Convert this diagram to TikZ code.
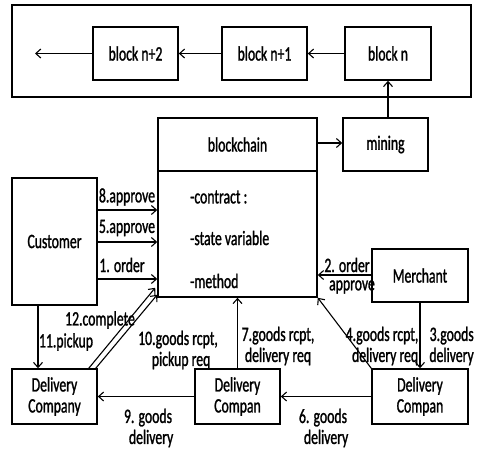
\documentclass[tikz,border=0pt]{standalone}
\usepackage{fontspec}
\setmainfont{Carlito}[FakeStretch=0.67,FakeBold=1.2]
\usetikzlibrary{arrows.meta,calc}
\tikzset{
    box/.style = {
        draw,
        line width=1.6pt,
        rectangle,
        minimum width=85pt,
        minimum height=53pt,
        inner sep=0pt,
        align=center,
        },
    wide box/.style = {
        box,
        minimum width=96pt,
        },
    lbl/.style = {
        inner sep=0pt,
        align=center,
        },
    flow/.style = {
        line width=1.1pt,
        -{Straight Barb[length=5pt,width=9pt,line width=1.1pt]},
        },
}

\begin{document}
\begin{tikzpicture}[x=1pt,y=-1pt,font=\fontsize{20.5}{21}\selectfont]
            \useasboundingbox (0,0) rectangle (481,450);
            \draw[line width=2.4pt] (12,5) rectangle (471,97);

            \node[box] (bn2) at (135.5,53.5) {block n+2};
            \node[box] (bn1) at (264.5,53.5) {block n+1};
            \node[box, minimum width=86pt] (bn) at (388,53.5) {block n};
            \coordinate (tail) at (35,53.5);

            \node[box, minimum width=159pt] (bc) at (237.5,144.5) {blockchain};
            \node[box, minimum width=159pt, minimum height=126pt] (body) at (237.5,234) {};
            \node[box] (mining) at (385.5,144.5) {mining};

            \node[box, minimum height=127pt] (cust) at (54.5,241.5) {Customer};
            \node[wide box] (merch) at (420,275.5) {Merchant};
            \node[box, minimum height=55pt] (dc1) at (54.5,396.5) {Delivery\\Company};
            \node[box, minimum height=55pt] (dc2) at (237.5,396.5) {Delivery\\Compan};
            \node[wide box, minimum height=55pt] (dc3) at (420,396.5) {Delivery\\Compan};

            % contract body
            \node[lbl, anchor=west] (c1) at (190,197) {-contract :};
            \node[lbl, anchor=west] (c2) at (190,238) {-state variable};
            \node[lbl, anchor=west] (c3) at (190,281) {-method};

            % chain
            \draw[flow] (bn.west) -- (bn1.east);
            \draw[flow] (bn1.west) -- (bn2.east);
            \draw[flow] (bn2.west) -- (tail);
            \draw[flow] (mining.north -| bn) -- (bn.south);
            \draw[flow] (bc.east |- 0,143) -- (mining.west |- 0,143);

            % customer side
            \draw[flow] (cust.east |- 0,210) -- (body.west |- 0,210);
            \draw[flow] (cust.east |- 0,242) -- (body.west |- 0,242);
            \draw[flow] (cust.east |- 0,279) -- (body.west |- 0,279);
            \node[lbl] (l8) at (127,197) {8.approve};
            \node[lbl] (l5) at (127,228) {5.approve};
            \node[lbl] (l1) at (122,265) {1. order};

            % merchant side
            \draw[flow] (merch.west |- 0,275) -- (body.east |- 0,275);
            \node[lbl] (l2) at (347,265) {2. order};
            \node[lbl] (l2b) at (352,287) {approve};
            \draw[flow] (merch.south) -- (dc3.north);
            \node[lbl, align=right] (l3) at (450,346) {3.goods\\\ delivery};
            \draw[flow] (dc3.north west) -- (body.south east);
            \node[lbl] (l4) at (382,346) {4.goods rcpt,\\\ \ delivery req};

            % delivery chain
            \draw[flow] (dc2.north) -- (body.south -| dc2);
            \node[lbl] (l7) at (278,346) {7.goods rcpt,\\delivery req};
            \draw[flow] (dc3.west) -- (dc2.east);
            \node[lbl] (l6) at (323,428) {6. goods\\\ \ delivery};
            \draw[flow] (dc2.west) -- (dc1.east);
            \node[lbl] (l9) at (148,428) {9. goods\\\ \ delivery};

            % pickup and completion
            \draw[flow] ([xshift=-16.5pt]cust.south) -- ([xshift=-16.5pt]dc1.north);
            \node[lbl] (l11) at (66,342) {11.pickup};
            \draw[flow] ([xshift=-9pt]dc1.north east) -- ($(body.south west)+(-2,-10)$);
            \draw[flow] ([xshift=-2pt]dc1.north east) -- ($(body.south west)+(0,-3)$);
            \node[lbl] (l12) at (100,320) {12.complete};
            \node[lbl] (l10) at (178,350) {10.goods rcpt,\\\ \ pickup req};
\end{tikzpicture}
\end{document}
